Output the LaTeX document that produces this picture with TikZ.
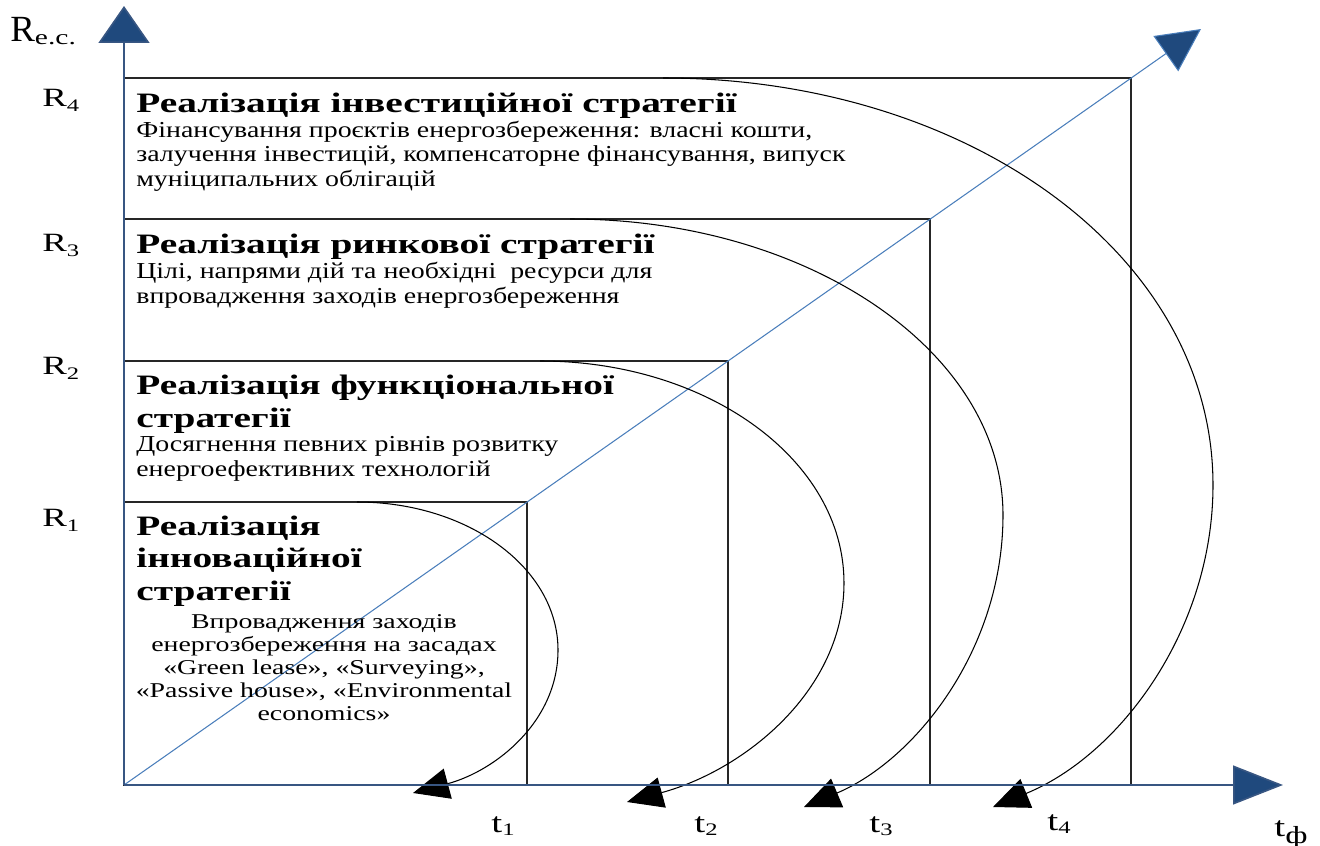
\documentclass[tikz,border=0pt]{standalone}
\usepackage{fontspec}
\setmainfont{Liberation Serif}
\newfontfamily\headfont{Liberation Serif}[FakeStretch=1.4]
\newfontfamily\labelfont{Liberation Serif}[FakeStretch=1.4]
\newfontfamily\bodyfont{Liberation Serif}[FakeStretch=1.22]
\newfontfamily\widebodyfont{Liberation Serif}[FakeStretch=1.32]
\usetikzlibrary{arrows.meta}
\definecolor{axisblue}{RGB}{31,73,125}
\definecolor{axisline}{RGB}{56,86,130}
\definecolor{diagblue}{RGB}{74,126,187}
\begin{document}
\begin{tikzpicture}[x=0.02cm,y=-0.02cm,
  boxline/.style={draw=black!85,line width=0.6pt},
  axis/.style={draw=axisline,line width=0.9pt},
  diag/.style={draw=diagblue,line width=0.6pt},
  arcline/.style={draw=black,line width=0.6pt,-{Triangle[length=0.72cm,width=0.62cm]}},
  heading/.style={anchor=base west,inner sep=0pt,align=left,
    font=\headfont\bfseries\fontsize{16}{18.3}\selectfont},
  body/.style={anchor=base west,inner sep=0pt,align=left,
    font=\bodyfont\fontsize{13}{13.8}\selectfont},
  axlabel/.style={anchor=base west,inner sep=0pt,font=\labelfont\fontsize{15}{15}\selectfont},
  tlabel/.style={anchor=base west,inner sep=0pt,font=\labelfont\fontsize{16}{16}\selectfont}]
\useasboundingbox (0,0) rectangle (1320,846);

% origin, box corners and axis tips
\coordinate (O) at (124,785);
\coordinate (c1) at (527,502);
\coordinate (c2) at (728,361);
\coordinate (c3) at (930,219);
\coordinate (c4) at (1131,78);
\coordinate (ytip) at (124,6);
\coordinate (xtip) at (1283,785);
\coordinate (dtip) at (1201,29);

% nested strategy boxes
\draw[boxline] (O) rectangle (c4);
\draw[boxline] (O) rectangle (c3);
\draw[boxline] (O) rectangle (c2);
\draw[boxline] (O) rectangle (c1);

% diagonal growth line
\draw[diag,-{Triangle[length=0.86cm,width=0.86cm,fill=axisblue]}] (O) -- (dtip);

% transition arcs
\coordinate (s1) at (357,502); \coordinate (e1) at (413,793);
\coordinate (s2) at (540,361); \coordinate (e2) at (627,802);
\coordinate (s3) at (570,219); \coordinate (e3) at (804,807);
\coordinate (s4) at (663,78);  \coordinate (e4) at (993,807);
\draw[arcline] (s1) .. controls (468,502) and (558,568) .. (558,650)
  .. controls (558,722) and (495,771) .. (e1);
\draw[arcline] (s2) .. controls (708,361) and (844,460) .. (844,583)
  .. controls (844,690) and (745,770) .. (e2);
\draw[arcline] (s3) .. controls (809,219) and (1003,352) .. (1003,515)
  .. controls (1003,650) and (915,760) .. (e3);
\draw[arcline] (s4) .. controls (967,78) and (1213,254) .. (1213,485)
  .. controls (1213,630) and (1120,755) .. (e4);

% axes
\draw[axis,-{Triangle[length=0.74cm,width=1.02cm,fill=axisblue]}] (O) -- (ytip);
\draw[axis,-{Triangle[length=1.0cm,width=0.78cm,fill=axisblue]}] (O) -- (xtip);

% box texts (base anchor = baseline of the last line)
\node[heading] (h4) at (136,112) {Реалізація інвестиційної стратегії};
\node[body] (b4) at (136,186) {Фінансування проєктів енергозбереження: власні кошти,\\
  залучення інвестицій, компенсаторне фінансування, випуск\\
  муніципальних облігацій};
\node[heading] (h3) at (136,253) {Реалізація ринкової стратегії};
\node[body] (b3) at (136,303) {Цілі, напрями дій та необхідні\ \ ресурси для\\
  впровадження заходів енергозбереження};
\node[heading] (h2) at (136,427) {Реалізація функціональної\\ стратегії};
\node[body] (b2) at (136,476) {Досягнення певних рівнів розвитку\\
  енергоефективних технологій};
\node[heading] (h1) at (136,600) {Реалізація\\ інноваційної\\ стратегії};
\node[body,anchor=base,align=center,font=\widebodyfont\fontsize{12}{13}\selectfont]
  (b1) at (324,720) {Впровадження заходів\\ енергозбереження на засадах\\
  «Green lease», «Surveying»,\\ «Passive house», «Environmental\\ economics»};

% axis labels
\node[anchor=base west,inner sep=0pt] (rec) at (10,41)
  {\fontsize{21}{21}\selectfont R\labelfont\fontsize{12}{12}\selectfont\raisebox{-2pt}{e.c.}};
\node[axlabel] (r4) at (42,106) {R\raisebox{-3pt}{\fontsize{10}{10}\selectfont 4}};
\node[axlabel] (r3) at (42,251) {R\raisebox{-3pt}{\fontsize{10}{10}\selectfont 3}};
\node[axlabel] (r2) at (42,374) {R\raisebox{-3pt}{\fontsize{10}{10}\selectfont 2}};
\node[axlabel] (r1) at (42,526) {R\raisebox{-3pt}{\fontsize{10}{10}\selectfont 1}};
\node[tlabel] (t1) at (491,832) {t\raisebox{-2pt}{\fontsize{10}{10}\selectfont 1}};
\node[tlabel] (t2) at (694,832) {t\raisebox{-2pt}{\fontsize{10}{10}\selectfont 2}};
\node[tlabel] (t3) at (869,832) {t\raisebox{-2pt}{\fontsize{10}{10}\selectfont 3}};
\node[tlabel] (t4) at (1047,830) {t\raisebox{-2pt}{\fontsize{10}{10}\selectfont 4}};
\node[tlabel] (tf) at (1274,836) {t\raisebox{-4pt}{\fontsize{14}{14}\selectfont ф}};
\end{tikzpicture}
\end{document}
